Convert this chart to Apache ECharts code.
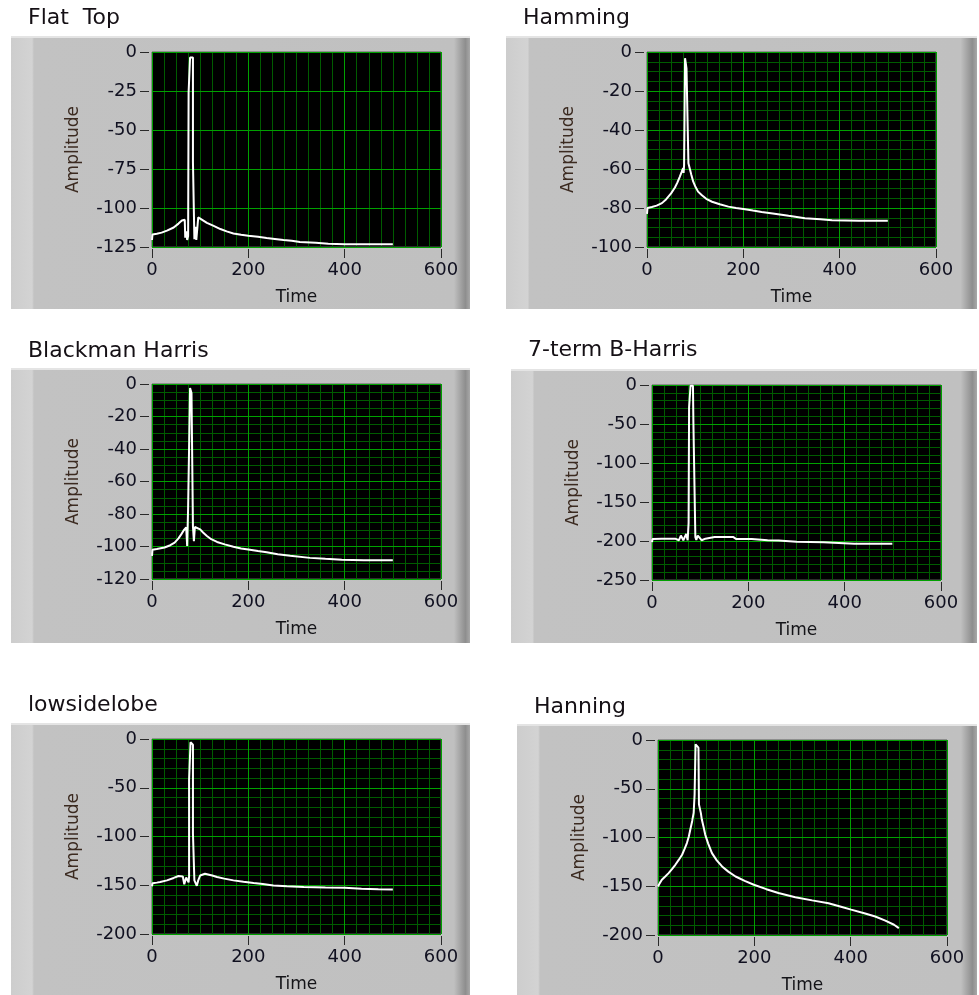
<!DOCTYPE html>
<html>
<head>
<meta charset="utf-8">
<script src="https://cdn.jsdelivr.net/npm/echarts@6/dist/echarts.min.js"></script>
<style>
html,body{margin:0;padding:0;background:#fff;}
#wrap{position:relative;width:979px;height:995px;}
#chart{position:absolute;left:0;top:0;width:979px;height:995px;z-index:2;}
.frame{position:absolute;z-index:1;border-top:2px solid #e4e4e4;box-sizing:border-box;
  background:linear-gradient(to right,#cdcdcd 0%,#d3d3d3 4.6%,#c2c2c2 5%,#c0c0c0 96.5%,#8e8e8e 99%,#a8a8a8 100%);}
</style>
</head>
<body>
<div id="wrap"><div id="chart"></div></div>
<script>
// ---- data ----
var titles = ["Flat  Top", "Hamming", "Blackman Harris", "7-term B-Harris", "lowsidelobe", "Hanning"];
var xTicks = [0, 200, 400, 600];
var xMinorStep = 25;
var yMins = [-125, -100, -120, -250, -200, -200];
var yIntervals = [25, 20, 20, 50, 50, 50];
var yMinorSteps = [0, 5, 5, 10, 10, 10];

var flatTop = [[0,-120.5],[1,-117],[10,-116.5],[20,-115.8],[31,-114.5],[45,-112.5],[55,-110],[62,-108],[68,-107.5],[69,-119],[71,-115],[73,-120.5],[75,-118],[76,-26],[79,-26],[79,-3.6],[85,-3.6],[85,-70.5],[87,-70.5],[88,-120],[90,-112],[92,-120.5],[96,-106],[100,-106.5],[114,-109.5],[128,-111.5],[142,-113.5],[155,-115],[169,-116.3],[185,-117.2],[200,-117.8],[220,-118.5],[238,-119.2],[255,-119.8],[273,-120.5],[290,-121],[307,-121.8],[340,-122.3],[366,-122.9],[400,-123.2],[450,-123.3],[500,-123.3]];

var hamming = [[0,-83],[1,-80],[10,-79.5],[20,-78.8],[31,-77.5],[40,-75.5],[50,-72.5],[58,-69.5],[63,-67],[68,-64],[72,-61.5],[75,-59.5],[76,-62],[77,-58],[78,-58],[79,-3.2],[82,-3.2],[82,-8.4],[85,-8.4],[86,-57],[88,-57.5],[89,-60],[92,-63],[96,-66.5],[100,-68.8],[106,-71.6],[114,-73.5],[123,-75.3],[135,-76.8],[151,-78.1],[169,-79.3],[185,-80],[200,-80.5],[220,-81.3],[238,-82],[261,-82.8],[294,-84],[328,-85.2],[360,-85.8],[384,-86.3],[440,-86.5],[500,-86.5]];

var blackmanHarris = [[0,-105.8],[1,-102],[10,-101.6],[26,-100.6],[38,-99.2],[47,-97.6],[55,-95],[61,-92.4],[66,-90],[71,-88.3],[72,-88],[73,-99.6],[75,-76],[78,-76],[79,-2.5],[82,-2.5],[82,-5.6],[84,-5.6],[85,-87.7],[86,-87.7],[87,-96.7],[89,-88],[93,-87.3],[100,-89.5],[106,-91.4],[114,-93.5],[123,-95.5],[135,-97.2],[151,-98.7],[169,-100.2],[185,-101.2],[200,-101.8],[220,-102.8],[238,-103.6],[261,-104.8],[287,-105.7],[328,-107],[360,-107.6],[394,-108.2],[440,-108.4],[500,-108.5]];

var sevenTerm = [[0,-201.5],[1,-197.5],[20,-197],[48,-197],[49,-199],[56,-199],[60,-193],[63,-192],[65,-199],[68,-199],[71,-191],[73,-191],[74,-199],[75,-198],[76,-177],[77,-177],[77,-29],[79,-29],[80,-1],[85,-1],[86,-50],[88,-50],[90,-195],[92,-198.5],[95,-193],[99,-195],[103,-199],[107,-201],[111,-197],[114,-195],[130,-195],[150,-195],[169,-195],[175,-197.5],[207,-197.5],[210,-199],[240,-199],[263,-199.5],[267,-201],[300,-201],[356,-201.5],[360,-203.5],[420,-203.5],[499,-203.5]];

var lowSidelobe = [[0,-151],[1,-148],[10,-147.3],[17,-146.7],[31,-145],[45,-142.5],[55,-140.5],[59,-140],[64,-141],[66,-142],[67,-149],[69,-149],[71,-142],[74,-141],[76,-147],[77,-141],[77,-42],[79,-42],[80,-3.4],[84,-3.4],[85,-5.8],[85,-97],[87,-97],[88,-145],[90,-143],[93,-150.5],[96,-145],[100,-140],[104,-138],[110,-138.2],[114,-138.8],[125,-140],[135,-141.6],[150,-143.2],[169,-145],[190,-146.5],[211,-147.8],[230,-148.8],[252,-150.2],[280,-151],[315,-151.9],[360,-152.3],[400,-152.6],[435,-153.6],[470,-154],[500,-154.3]];

var hanning = [[0,-150.3],[4,-146.5],[8,-143.4],[15,-140],[22,-136.5],[29,-132.5],[36,-128],[43,-123],[50,-117.7],[55,-112],[60,-105.7],[64,-99],[67,-92],[71,-83],[74,-74.8],[76,-56],[78,-56],[78,-4.5],[80,-3.4],[84,-7.9],[85,-7.9],[85,-66],[87,-66],[89,-75],[91,-81.6],[95,-90],[98,-97],[104,-106],[112,-116],[122,-123.5],[133,-129.7],[146,-135],[161,-140],[180,-144.5],[199,-148.5],[225,-153],[250,-157],[285,-161.2],[320,-164.5],[354,-167.4],[380,-171],[401,-174],[430,-178],[451,-181],[472,-185.2],[490,-189.5],[500,-193]];

var seriesData = [flatTop, hamming, blackmanHarris, sevenTerm, lowSidelobe, hanning];

// ---- layout (pixels) ----
var frames = [
  {x:11, y:36, w:459, h:273},
  {x:506, y:36, w:471, h:273},
  {x:11, y:368, w:459, h:275},
  {x:511, y:369, w:466, h:274},
  {x:11, y:723, w:459, h:272},
  {x:517, y:724, w:460, h:271}
];
var titleTops = [7, 7, 340, 339, 694, 696];
var FONT = "DejaVu Sans";
var MAJOR = '#00a000', MINOR = '#005c00';

var wrap = document.getElementById('wrap');
frames.forEach(function (f) {
  var d = document.createElement('div');
  d.className = 'frame';
  d.style.left = f.x + 'px'; d.style.top = f.y + 'px';
  d.style.width = f.w + 'px'; d.style.height = f.h + 'px';
  wrap.appendChild(d);
});

var option = {
  animation: false,
  backgroundColor: 'transparent',
  title: [], grid: [], xAxis: [], yAxis: [], series: []
};

var n = frames.length;
frames.forEach(function (f, i) {
  var gl = f.x + 141, gt = f.y + 16;
  option.title.push({
    text: titles[i], left: f.x + 17, top: titleTops[i], padding: 0,
    textStyle: {fontFamily: FONT, fontSize: 22, fontWeight: 'normal', color: '#151015'}
  });
  option.grid.push({
    left: gl, top: gt, width: 289, height: 195,
    show: true, backgroundColor: '#000000', borderColor: '#5a5a5a', borderWidth: 1
  });
  // major axes (indices 0..5)
  option.xAxis[i] = {
    type: 'value', gridIndex: i, z: 3, min: xTicks[0], max: xTicks[xTicks.length - 1], interval: 200,
    position: 'bottom', offset: 2,
    axisLine: {show: true, onZero: false, lineStyle: {color: 'rgba(0,0,0,0)', width: 1}},
    axisTick: {show: true, inside: false, length: 9, lineStyle: {color: '#2a2a2a', width: 1}},
    axisLabel: {margin: 12, fontFamily: FONT, fontSize: 18, color: '#101020'},
    name: 'Time', nameLocation: 'middle', nameGap: 40,
    nameTextStyle: {fontFamily: FONT, fontSize: 17, color: '#141418'},
    splitLine: {show: true, lineStyle: {color: MAJOR, width: 1}}
  };
  option.yAxis[i] = {
    type: 'value', gridIndex: i, z: 3, min: yMins[i], max: 0, interval: yIntervals[i],
    position: 'left', offset: 3,
    axisLine: {show: true, onZero: false, lineStyle: {color: 'rgba(0,0,0,0)', width: 1}},
    axisTick: {show: true, inside: false, length: 9, lineStyle: {color: '#2a2a2a', width: 1}},
    axisLabel: {margin: 12, fontFamily: FONT, fontSize: 18, color: '#101020'},
    name: 'Amplitude', nameLocation: 'middle', nameGap: 67,
    nameTextStyle: {fontFamily: FONT, fontSize: 17, color: '#3b2a20'},
    splitLine: {show: true, lineStyle: {color: MAJOR, width: 1}}
  };
  // fine grid axes (indices 6..11), only their split lines are drawn
  option.xAxis[n + i] = {
    type: 'value', gridIndex: i, z: 1, min: xTicks[0], max: xTicks[xTicks.length - 1], interval: xMinorStep,
    position: 'top',
    axisLine: {show: false}, axisTick: {show: false}, axisLabel: {show: false},
    splitLine: {show: true, lineStyle: {color: MINOR, width: 1}}
  };
  option.yAxis[n + i] = {
    type: 'value', gridIndex: i, z: 1, min: yMins[i], max: 0, interval: yMinorSteps[i] || yIntervals[i],
    position: 'right',
    axisLine: {show: false}, axisTick: {show: false}, axisLabel: {show: false},
    splitLine: {show: yMinorSteps[i] > 0, lineStyle: {color: MINOR, width: 1}}
  };
  option.series.push({
    type: 'line', xAxisIndex: i, yAxisIndex: i, data: seriesData[i], z: 5,
    showSymbol: false, symbol: 'none', clip: true,
    lineStyle: {color: '#ffffff', width: 2}
  });
});

var chart = echarts.init(document.getElementById('chart'), null, {renderer: 'canvas'});
chart.setOption(option);
</script>
</body>
</html>
